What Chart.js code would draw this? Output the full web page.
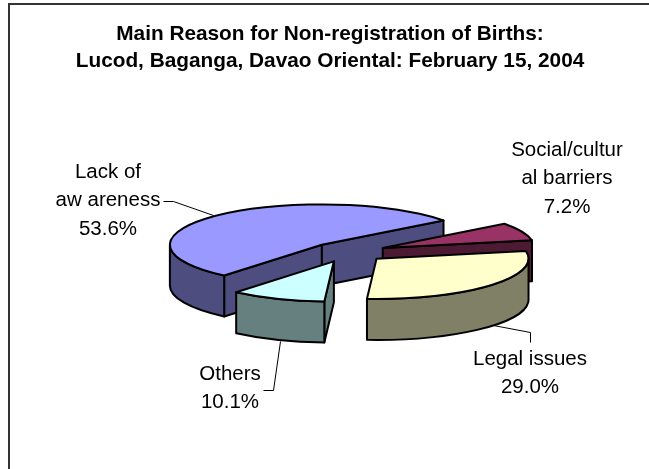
<!DOCTYPE html>
<html><head><meta charset="utf-8">
<style>html,body{margin:0;padding:0;background:#fff}#w{width:649px;height:469px}</style>
<script src="https://cdn.jsdelivr.net/npm/chart.js@4"></script>
</head><body><div id="w"><canvas id="c" width="649" height="469"></canvas></div>
<script>
const categories = ['Lack of awareness','Social/cultural barriers','Legal issues','Others'];
const shares = [53.6, 7.2, 29.0, 10.1];
const titleLines = ['Main Reason for Non-registration of Births:','Lucod, Baganga, Davao Oriental: February 15, 2004'];
const topColors = ['#9999FF','#993366','#FFFFCC','#CCFFFF'];
const wallColors = ['#4D4D80','#4D1A33','#808066','#668080'];
const labelLines = [['Lack of','aw areness','53.6%'],['Social/cultur','al barriers','7.2%'],['Legal issues','29.0%'],['Others','10.1%']];
const labelAnchors = [[108,172],[567,150],[530,359],[230,374]];
const leaders = [[[163,201],[173,201],[213,215]],[],[[493,325],[530,332],[530,342]],[[280,341],[273,390],[263,390]]];

const CX=348, CY=252, TILT=0.265, DEPTH=41, EXPLODE=38, LINE=28.5, FONT='20.5px "Liberation Sans", Arial, sans-serif';

const pie3d = {
  id:'pie3d',
  beforeDatasetDraw(chart,args){
    const ctx=chart.ctx, arcs=chart.getDatasetMeta(args.index).data;
    arcs.forEach((arc,i)=>{
      const {x,y,startAngle:a,endAngle:b,outerRadius:R}=arc.getProps(['x','y','startAngle','endAngle','outerRadius'],true);
      const mid=(a+b)/2;
      const ax=CX+Math.cos(mid)*EXPLODE, ay=CY+Math.sin(mid)*EXPLODE*TILT;
      const px=t=>ax+Math.cos(t)*R, py=t=>ay+Math.sin(t)*R*TILT;
      ctx.save();
      ctx.lineWidth=2; ctx.strokeStyle='#000'; ctx.lineJoin='round';
      ctx.fillStyle=wallColors[i];
      const face=t=>{
        ctx.beginPath();ctx.moveTo(ax,ay);ctx.lineTo(px(t),py(t));ctx.lineTo(px(t),py(t)+DEPTH);ctx.lineTo(ax,ay+DEPTH);ctx.closePath();ctx.fill();ctx.stroke();
      };
      if(-Math.cos(a)>0) face(a);
      if(Math.cos(b)>0) face(b);
      for(let k=-1;k<3;k++){
        const lo=Math.max(a,k*2*Math.PI), hi=Math.min(b,k*2*Math.PI+Math.PI);
        if(hi>lo){
          ctx.beginPath();
          ctx.ellipse(ax,ay,R,R*TILT,0,lo,hi);
          ctx.ellipse(ax,ay+DEPTH,R,R*TILT,0,hi,lo,true);
          ctx.closePath();ctx.fill();ctx.stroke();
        }
      }
      ctx.save();
      ctx.translate(ax,ay);ctx.scale(1,TILT);ctx.translate(-x,-y);
      arc.draw(ctx);
      ctx.restore();
      ctx.beginPath();ctx.moveTo(ax,ay);ctx.ellipse(ax,ay,R,R*TILT,0,a,b);ctx.closePath();ctx.stroke();
      ctx.restore();
    });
    return false;
  },
  afterDraw(chart){
    const ctx=chart.ctx;
    ctx.save();
    ctx.strokeStyle='#000';ctx.lineWidth=1;
    leaders.forEach(l=>{ if(!l.length)return; ctx.beginPath();l.forEach((p,i)=>i?ctx.lineTo(p[0]+.5,p[1]+.5):ctx.moveTo(p[0]+.5,p[1]+.5));ctx.stroke();});
    ctx.fillStyle='#000';ctx.font=FONT;ctx.textAlign='center';ctx.textBaseline='middle';
    labelLines.forEach((ls,i)=>ls.forEach((t,j)=>ctx.fillText(t,labelAnchors[i][0],labelAnchors[i][1]+j*LINE)));
    ctx.strokeStyle='#333';ctx.lineWidth=2;
    ctx.beginPath();ctx.moveTo(9,469);ctx.lineTo(9,4);ctx.lineTo(649,4);ctx.stroke();
    ctx.restore();
  }
};

new Chart(document.getElementById('c'),{
  type:'pie',
  data:{labels:categories,datasets:[{data:shares,backgroundColor:topColors,borderWidth:0}]},
  plugins:[pie3d],
  options:{
    responsive:false,animation:false,rotation:220,radius:152,
    layout:{padding:{left:11}},
    plugins:{
      legend:{display:false},tooltip:{enabled:false},
      title:{display:true,text:titleLines,color:'#000',align:'center',
        font:{family:'"Liberation Sans", Arial, sans-serif',size:20.8,weight:'bold',lineHeight:1.3},
        padding:{top:21,bottom:0}}
    }
  }
});
</script></body></html>
